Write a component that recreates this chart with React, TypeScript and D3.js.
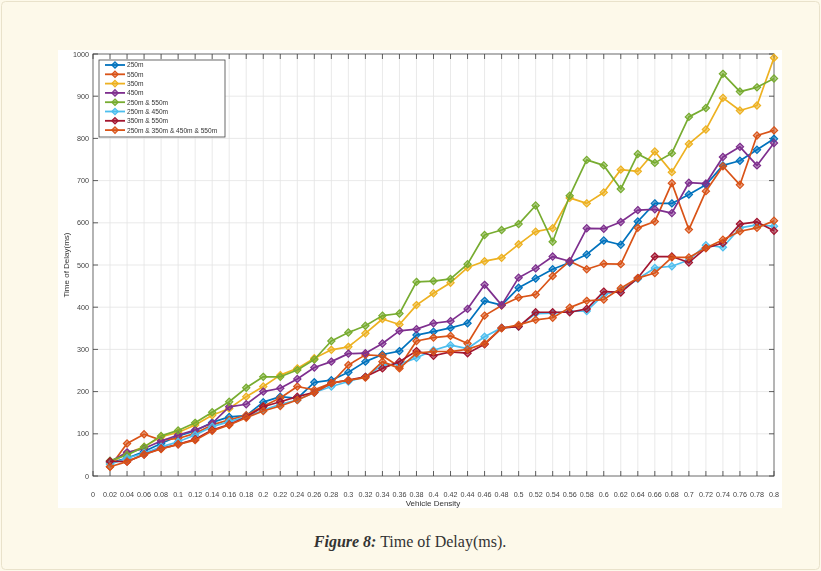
import React from "react";
import * as d3 from "d3";

// Vehicle density sampled every 0.02 from 0.02 to 0.8
const density = d3.range(1, 41).map((i) => +(i * 0.02).toFixed(2));

const seriesNames = [
  "250m",
  "550m",
  "350m",
  "450m",
  "250m & 550m",
  "250m & 450m",
  "350m & 550m",
  "250m & 350m & 450m & 550m",
];

const seriesColors = [
  "#0072BD",
  "#D95319",
  "#EDB120",
  "#7E2F8E",
  "#77AC30",
  "#4DBEEE",
  "#A2142F",
  "#D95319",
];

// Delay (ms) per density value
const d250 = [32, 42, 58, 77, 95, 107, 127, 140, 143, 175, 188, 184, 222, 227, 246, 271, 288, 296, 334, 342, 351, 362, 415, 405, 446, 468, 490, 506, 525, 558, 548, 603, 646, 646, 667, 690, 736, 747, 773, 799];
const d550 = [22, 77, 99, 85, 89, 101, 121, 133, 144, 165, 185, 212, 204, 220, 263, 287, 285, 259, 320, 328, 332, 314, 380, 404, 423, 430, 474, 509, 490, 503, 502, 588, 603, 694, 584, 675, 734, 690, 807, 819];
const d350 = [30, 54, 69, 93, 103, 121, 144, 160, 188, 212, 239, 255, 279, 299, 306, 338, 372, 359, 405, 433, 458, 494, 509, 517, 549, 579, 587, 659, 646, 672, 726, 722, 769, 720, 787, 821, 896, 866, 878, 991];
const d450 = [34, 56, 65, 83, 97, 109, 125, 164, 170, 200, 208, 230, 257, 271, 290, 291, 314, 344, 348, 362, 367, 396, 453, 405, 470, 492, 520, 509, 587, 586, 602, 630, 632, 623, 695, 693, 756, 780, 736, 789];
const d250_550 = [36, 50, 69, 95, 108, 126, 151, 176, 209, 235, 235, 251, 276, 320, 340, 356, 380, 385, 460, 462, 467, 502, 571, 583, 597, 641, 555, 664, 749, 736, 680, 763, 742, 765, 851, 872, 953, 911, 921, 942];
const d250_450 = [28, 42, 54, 69, 81, 97, 117, 129, 140, 156, 170, 180, 198, 212, 224, 235, 263, 265, 280, 298, 310, 302, 330, 351, 354, 385, 386, 390, 391, 430, 440, 467, 493, 497, 512, 547, 542, 588, 595, 592];
const d350_550 = [35, 34, 51, 65, 75, 87, 109, 122, 140, 164, 176, 188, 198, 220, 227, 235, 255, 271, 296, 285, 294, 291, 312, 351, 354, 388, 388, 388, 396, 437, 435, 469, 520, 520, 506, 540, 552, 597, 602, 581];
const dAll = [22, 34, 51, 64, 75, 85, 107, 121, 138, 154, 166, 180, 198, 220, 227, 233, 271, 255, 291, 295, 295, 300, 314, 350, 358, 370, 375, 399, 415, 418, 445, 469, 481, 518, 518, 540, 560, 580, 588, 605];

const seriesValues = [d250, d550, d350, d450, d250_550, d250_450, d350_550, dAll];

const xTicks = d3.range(0, 41).map((i) => +(i * 0.02).toFixed(2));
const yTicks = [0, 100, 200, 300, 400, 500, 600, 700, 800, 900, 1000];

const W = 821;
const H = 571;
const plot = { left: 93, right: 774, top: 54, bottom: 476 };

const x = d3.scaleLinear().domain([0, 0.8]).range([plot.left, plot.right]);
const y = d3.scaleLinear().domain([0, 1000]).range([plot.bottom, plot.top]);

const line = d3
  .line<number>()
  .x((_, i) => x(density[i]))
  .y((v) => y(v));

const diamond = (cx: number, cy: number, r: number) =>
  `M${cx},${cy - r}L${cx + r},${cy}L${cx},${cy + r}L${cx - r},${cy}Z`;

const axisFont = "Liberation Sans, Arial, sans-serif";

export default function App() {
  const legend = { x: 99, y: 60, w: 126, h: 77, row: 9.3 };
  return (
    <svg
      width={W}
      height={H}
      style={{ position: "absolute", left: 0, top: 0, display: "block" }}
    >
      <defs>
        <filter id="soft" x="-2%" y="-2%" width="104%" height="104%">
          <feGaussianBlur stdDeviation={0.35} />
        </filter>
      </defs>
      <rect x={0} y={0} width={W} height={H} fill="#FDF9EA" />
      <rect x={1.5} y={1.5} width={W - 3} height={H - 3} rx={4} fill="none" stroke="#E9E2CB" />

      {/* figure panel */}
      <rect x={58} y={50} width={724} height={458} fill="#FFFFFF" />

      <g filter="url(#soft)">
        {/* grid */}
        <g stroke="#E3E3E3" strokeWidth={0.8}>
          {xTicks.map((t) => (
            <line key={"gx" + t} x1={x(t)} x2={x(t)} y1={plot.top} y2={plot.bottom} />
          ))}
          {yTicks.map((t) => (
            <line key={"gy" + t} x1={plot.left} x2={plot.right} y1={y(t)} y2={y(t)} />
          ))}
        </g>

        {/* axes box and ticks */}
        <g stroke="#3A3A3A" strokeWidth={0.8} fill="none">
          <rect x={plot.left} y={plot.top} width={plot.right - plot.left} height={plot.bottom - plot.top} stroke="#555" />
          {xTicks.map((t) => (
            <g key={"tx" + t}>
              <line x1={x(t)} x2={x(t)} y1={plot.bottom} y2={plot.bottom - 5} />
              <line x1={x(t)} x2={x(t)} y1={plot.top} y2={plot.top + 5} />
            </g>
          ))}
          {yTicks.map((t) => (
            <g key={"ty" + t}>
              <line x1={plot.left} x2={plot.left + 5} y1={y(t)} y2={y(t)} />
              <line x1={plot.right} x2={plot.right - 5} y1={y(t)} y2={y(t)} />
            </g>
          ))}
        </g>

        {/* tick labels */}
        <g fontFamily={axisFont} fontSize={7.2} fill="#444">
          {xTicks.map((t) => (
            <text key={"lx" + t} x={x(t)} y={plot.bottom + 21} textAnchor="middle">
              {String(t)}
            </text>
          ))}
          {yTicks.map((t) => (
            <text key={"ly" + t} x={plot.left - 4} y={y(t) + 2.5} textAnchor="end">
              {String(t)}
            </text>
          ))}
        </g>
        <text
          x={433}
          y={plot.bottom + 30}
          textAnchor="middle"
          fontFamily={axisFont}
          fontSize={8}
          fill="#333"
        >
          Vehicle Density
        </text>
        <text
          transform={`translate(69,${(plot.top + plot.bottom) / 2}) rotate(-90)`}
          textAnchor="middle"
          fontFamily={axisFont}
          fontSize={8}
          fill="#333"
        >
          Time of Delay(ms)
        </text>

        {/* series */}
        {seriesValues.map((vals, si) => (
          <g key={"s" + si}>
            <path d={line(vals) || ""} fill="none" stroke={seriesColors[si]} strokeWidth={1.7} strokeLinejoin="round" />
            {vals.map((v, i) => (
              <path
                key={i}
                d={diamond(x(density[i]), y(v), 3.6)}
                fill={seriesColors[si]}
                fillOpacity={0.55}
                stroke={seriesColors[si]}
                strokeWidth={1.2}
              />
            ))}
          </g>
        ))}

        {/* legend */}
        <g>
          <rect x={legend.x} y={legend.y} width={legend.w} height={legend.h} fill="#FFFFFF" stroke="#444" strokeWidth={0.8} />
          {seriesNames.map((name, i) => {
            const ly = legend.y + 5 + i * legend.row;
            return (
              <g key={"lg" + i}>
                <line x1={legend.x + 6} x2={legend.x + 26} y1={ly} y2={ly} stroke={seriesColors[i]} strokeWidth={1.8} />
                <path d={diamond(legend.x + 16, ly, 3.2)} fill={seriesColors[i]} fillOpacity={0.55} stroke={seriesColors[i]} strokeWidth={1.2} />
                <text x={legend.x + 28} y={ly + 2.4} fontFamily={axisFont} fontSize={6.6} fill="#333">
                  {name}
                </text>
              </g>
            );
          })}
        </g>
      </g>

      {/* caption */}
      <text x={410} y={547} textAnchor="middle" fontFamily="Liberation Serif, Times New Roman, serif" fontSize={16} fill="#333">
        <tspan fontWeight="bold" fontStyle="italic">Figure 8:</tspan>
        <tspan> Time of Delay(ms).</tspan>
      </text>
    </svg>
  );
}
